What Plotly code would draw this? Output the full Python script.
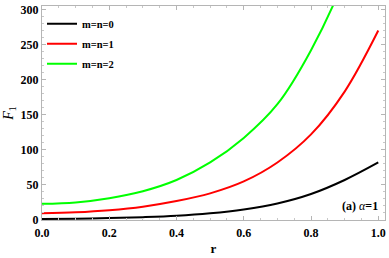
import plotly.graph_objects as go

r_vals = [0.0, 0.1, 0.2, 0.3, 0.4, 0.5, 0.6, 0.7, 0.8, 0.9, 1.0]
f_mn0 = [1.5, 1.9, 2.7, 4.0, 6.0, 9.5, 15.0, 23.5, 37.0, 57.0, 82.0]
f_mn1 = [9.5, 11.0, 14.0, 19.0, 27.0, 38.0, 55.0, 82.0, 122.0, 183.0, 270.0]
f_mn2 = [23.0, 25.0, 31.0, 41.0, 57.0, 82.0, 117.0, 165.0, 242.0, 345.0, 490.0]

series = [("m=n=0", f_mn0, "#000000"), ("m=n=1", f_mn1, "#ff0000"), ("m=n=2", f_mn2, "#00ff00")]

serif = "Liberation Serif"
fig = go.Figure()
for i, (name, ys, col) in enumerate(series):
    fig.add_trace(go.Scatter(x=r_vals, y=ys, mode="lines", name=name,
                             line=dict(color=col, width=2, shape="spline"),
                             legendgroup=f"g{i}"))

axis_common = dict(showline=True, linecolor="#b5b5b5", linewidth=1, mirror="ticks",
                   ticks="inside", ticklen=4, tickcolor="#b5b5b5", showgrid=False,
                   zeroline=False,
                   tickfont=dict(family=serif, size=12, color="black", weight="bold"))

fig.update_xaxes(range=[0, 1.02], tickvals=[0, 0.2, 0.4, 0.6, 0.8, 1.0],
                 ticktext=["0.0", "0.2", "0.4", "0.6", "0.8", "1.0"],
                 ticklabelstandoff=2,
                 minor=dict(dtick=0.05, ticks="inside", ticklen=2, tickcolor="#c8c8c8"),
                 title=dict(text="<b>r</b>", font=dict(family=serif, size=13, color="black"), standoff=4),
                 **axis_common)
fig.update_yaxes(range=[0, 305], tickvals=[0, 50, 100, 150, 200, 250, 300],
                 minor=dict(dtick=10, ticks="inside", ticklen=2, tickcolor="#c8c8c8"),
                 title=dict(text="<i>F</i><sub>1</sub>", font=dict(family=serif, size=14, color="black"), standoff=3),
                 **axis_common)

fig.add_annotation(x=0.985, y=0.025, xref="paper", yref="paper", xanchor="right", yanchor="bottom",
                   text="<b>(a) </b><i>α</i><b>=1</b>", showarrow=False,
                   font=dict(family=serif, size=12, color="black"))

fig.update_layout(width=389, height=258, margin=dict(l=42, r=4, t=6, b=38),
                  plot_bgcolor="white", paper_bgcolor="white",
                  showlegend=True,
                  legend=dict(x=0.0, y=0.985, xanchor="left", yanchor="top",
                              bgcolor="rgba(0,0,0,0)", tracegroupgap=1, itemwidth=30,
                              font=dict(family=serif, size=10.5, color="black", weight="bold")))

fig.write_html("out.html", config={"displayModeBar": False},
               post_script="document.body.style.margin='0';document.body.style.padding='0';document.documentElement.style.margin='0';")
